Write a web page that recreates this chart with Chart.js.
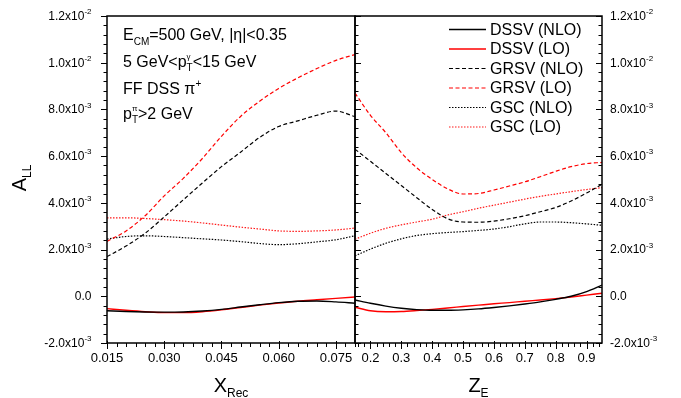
<!DOCTYPE html>
<html>
<head>
<meta charset="utf-8">
<script src="https://cdn.jsdelivr.net/npm/chart.js@4.4.0/dist/chart.umd.min.js"></script>
<style>
  body { margin: 0; background: #fff; }
  #wrap { position: relative; width: 681px; height: 398px; }
  #cLeft { position: absolute; left: 0; top: 0; width: 365px; height: 398px; }
  #cRight { position: absolute; left: 345px; top: 0; width: 336px; height: 398px; }
</style>
</head>
<body>
<div id="wrap">
  <canvas id="cLeft" width="365" height="398"></canvas>
  <canvas id="cRight" width="336" height="398"></canvas>
</div>
<script>
// A_LL values are in units of 1e-3

// left panel: X_Rec
const xRec = [0.015, 0.020, 0.025, 0.030, 0.035, 0.040, 0.045, 0.050, 0.055, 0.060, 0.065, 0.070, 0.075, 0.080];
const dssvNloX = [-0.62, -0.65, -0.67, -0.68, -0.67, -0.63, -0.56, -0.46, -0.36, -0.27, -0.21, -0.20, -0.24, -0.30];
const dssvLoX  = [-0.53, -0.60, -0.66, -0.70, -0.70, -0.66, -0.58, -0.48, -0.38, -0.29, -0.21, -0.15, -0.09, -0.03];
const grsvNloX = [1.70, 2.15, 2.70, 3.40, 4.13, 4.85, 5.55, 6.17, 6.80, 7.27, 7.51, 7.75, 7.93, 7.69];
const grsvLoX  = [2.35, 2.80, 3.45, 4.30, 5.05, 5.90, 6.85, 7.70, 8.35, 8.90, 9.35, 9.75, 10.10, 10.35];
const gscNloX  = [2.45, 2.56, 2.59, 2.56, 2.51, 2.46, 2.41, 2.34, 2.26, 2.21, 2.25, 2.33, 2.42, 2.59];
const gscLoX   = [3.36, 3.36, 3.33, 3.28, 3.22, 3.14, 3.05, 2.96, 2.88, 2.80, 2.78, 2.80, 2.84, 2.92];

// right panel: Z_E
const zE = [0.15, 0.20, 0.25, 0.30, 0.35, 0.40, 0.45, 0.50, 0.55, 0.60, 0.65, 0.70, 0.75, 0.80, 0.85, 0.90, 0.95];
const dssvNloZ = [-0.16, -0.30, -0.42, -0.51, -0.57, -0.60, -0.60, -0.58, -0.54, -0.48, -0.41, -0.33, -0.24, -0.13, 0.00, 0.20, 0.48];
const dssvLoZ  = [-0.47, -0.62, -0.66, -0.65, -0.61, -0.56, -0.50, -0.44, -0.38, -0.32, -0.27, -0.21, -0.16, -0.10, -0.03, 0.05, 0.13];
const grsvNloZ = [6.30, 5.78, 5.26, 4.74, 4.22, 3.72, 3.32, 3.18, 3.17, 3.22, 3.32, 3.45, 3.62, 3.80, 4.08, 4.42, 4.80];
const grsvLoZ  = [8.70, 7.75, 7.00, 6.15, 5.50, 5.00, 4.60, 4.38, 4.40, 4.55, 4.72, 4.90, 5.12, 5.35, 5.55, 5.68, 5.73];
const gscNloZ  = [1.73, 2.02, 2.27, 2.46, 2.60, 2.68, 2.73, 2.77, 2.82, 2.88, 2.98, 3.10, 3.18, 3.18, 3.15, 3.10, 3.04];
const gscLoZ   = [2.44, 2.70, 2.91, 3.06, 3.18, 3.30, 3.48, 3.62, 3.77, 3.90, 4.03, 4.16, 4.28, 4.38, 4.48, 4.57, 4.65];

const seriesNames = ["DSSV (NLO)", "DSSV (LO)", "GRSV (NLO)", "GRSV (LO)", "GSC (NLO)", "GSC (LO)"];

// tick labels
const yTicks = [-0.002, 0, 0.002, 0.004, 0.006, 0.008, 0.010, 0.012];
const xRecTicks = [0.015, 0.030, 0.045, 0.060, 0.075];
const zTicks = [0.2, 0.3, 0.4, 0.5, 0.6, 0.7, 0.8, 0.9];

const colors = ["#000000", "#ff0000", "#000000", "#ff0000", "#000000", "#ff1a1a"];
const dashes = [[], [], [4, 2.5], [4, 2.5], [1.5, 1.5], [1.5, 1.5]];
const FAM = '"Liberation Sans", Arial, sans-serif';
const font = s => s + "px " + FAM;

function toPoints(xs, ys) {
  return xs.map((x, i) => ({ x: x, y: ys[i] * 1e-3 }));
}

function makeDatasets(xs, list) {
  return list.map((ys, i) => ({
    label: seriesNames[i],
    data: toPoints(xs, ys),
    borderColor: colors[i],
    borderDash: dashes[i],
    borderWidth: dashes[i].length ? 1.2 : 1.4,
    pointRadius: 0,
    fill: false,
    cubicInterpolationMode: "monotone"
  }));
}

// text with sub/superscripts, parts: {t, size, dy} or {stack: [...]}
function richWidth(ctx, parts) {
  let w = 0;
  parts.forEach(p => {
    if (p.stack) {
      w += Math.max(...p.stack.map(s => { ctx.font = font(s.size); return ctx.measureText(s.t).width; }));
    } else {
      ctx.font = font(p.size);
      w += ctx.measureText(p.t).width;
    }
  });
  return w;
}
function drawRich(ctx, x, y, parts) {
  parts.forEach(p => {
    if (p.stack) {
      let w = 0;
      p.stack.forEach(s => {
        ctx.font = font(s.size);
        ctx.fillText(s.t, x, y + s.dy);
        w = Math.max(w, ctx.measureText(s.t).width);
      });
      x += w;
    } else {
      ctx.font = font(p.size);
      ctx.fillText(p.t, x, y + (p.dy || 0));
      x += ctx.measureText(p.t).width;
    }
  });
}

function sciLabel(v) {
  if (Math.abs(v) < 1e-12) return ["0.0", ""];
  const e = Math.floor(Math.log10(Math.abs(v)) + 1e-9);
  return [(v / Math.pow(10, e)).toFixed(1) + "x10", String(e)];
}

function yTickMarks(ctx, ys, x, lenMajor, lenMinor, dirOut) {
  for (let i = 0; i <= 35; i++) {
    const v = -0.002 + i * 0.0004;
    const py = Math.round(ys.getPixelForValue(v)) + 0.5;
    const len = i % 5 === 0 ? lenMajor : lenMinor;
    ctx.beginPath();
    ctx.moveTo(x, py);
    ctx.lineTo(x + dirOut * len, py);
    ctx.stroke();
  }
}

function frame(ctx, a) {
  ctx.save();
  ctx.strokeStyle = "#000";
  ctx.lineWidth = 1.5;
  ctx.setLineDash([]);
  ctx.strokeRect(a.left, a.top, a.right - a.left, a.bottom - a.top);
  ctx.restore();
}

const leftDecor = {
  id: "leftDecor",
  afterDraw(chart) {
    const ctx = chart.ctx, a = chart.chartArea;
    const xs = chart.scales.x, ys = chart.scales.y;
    frame(ctx, a);
    ctx.save();
    ctx.strokeStyle = "#000";
    ctx.lineWidth = 1;
    // left axis ticks, outward
    yTickMarks(ctx, ys, a.left, 6, 3.5, -1);
    // bottom ticks
    for (let i = 0; i <= 26; i++) {
      const v = 0.015 + i * 0.0025;
      const px = Math.round(xs.getPixelForValue(v)) + 0.5;
      ctx.beginPath();
      if (i % 6 === 0) { ctx.moveTo(px, a.bottom - 2); ctx.lineTo(px, a.bottom + 6); }
      else { ctx.moveTo(px, a.bottom); ctx.lineTo(px, a.bottom + 4); }
      ctx.stroke();
    }
    // y labels
    ctx.fillStyle = "#000";
    ctx.textBaseline = "middle";
    yTicks.forEach(v => {
      const py = ys.getPixelForValue(v);
      const [m, e] = sciLabel(v);
      ctx.font = font(8);
      const we = e ? ctx.measureText(e).width : 0;
      ctx.font = font(12);
      const wm = ctx.measureText(m).width;
      const x0 = 91.5 - we - wm;
      ctx.fillText(m, x0, py + 0.5);
      if (e) { ctx.font = font(8); ctx.fillText(e, x0 + wm, py - 4); }
    });
    // annotation text
    ctx.textBaseline = "alphabetic";
    drawRich(ctx, 123, 40, [{ t: "E", size: 16 }, { t: "CM", size: 10, dy: 4.5 }, { t: "=500 GeV, |\u03b7|<0.35", size: 16 }]);
    drawRich(ctx, 123, 66.5, [{ t: "5 GeV<p", size: 16 }, { stack: [{ t: "T", size: 10, dy: 4.5 }, { t: "\u03b3", size: 8, dy: -8 }] }, { t: "<15 GeV", size: 16 }]);
    drawRich(ctx, 123, 93.5, [{ t: "FF DSS \u03c0", size: 16 }, { t: "+", size: 10, dy: -7 }]);
    drawRich(ctx, 123, 118.5, [{ t: "p", size: 16 }, { stack: [{ t: "T", size: 10, dy: 4.5 }, { t: "\u03c0", size: 8, dy: -8 }] }, { t: ">2 GeV", size: 16 }]);
    // axis titles
    const xt = [{ t: "X", size: 20 }, { t: "Rec", size: 12, dy: 5 }];
    drawRich(ctx, (a.left + a.right) / 2 - richWidth(ctx, xt) / 2, 392, xt);
    const yt = [{ t: "A", size: 20 }, { t: "LL", size: 12, dy: 5 }];
    ctx.translate(26, 178);
    ctx.rotate(-Math.PI / 2);
    drawRich(ctx, -richWidth(ctx, yt) / 2, 0, yt);
    ctx.restore();
  }
};

const rightDecor = {
  id: "rightDecor",
  afterDraw(chart) {
    const ctx = chart.ctx, a = chart.chartArea;
    const xs = chart.scales.x, ys = chart.scales.y;
    frame(ctx, a);
    ctx.save();
    ctx.strokeStyle = "#000";
    ctx.lineWidth = 1;
    // divider ticks point into right panel, right axis ticks point inward
    yTickMarks(ctx, ys, a.left, 6, 3.5, 1);
    yTickMarks(ctx, ys, a.right, 6, 3.5, -1);
    for (let i = 0; i <= 39; i++) {
      const v = 0.16 + i * 0.02;
      const px = Math.round(xs.getPixelForValue(v)) + 0.5;
      ctx.beginPath();
      if (i % 5 === 2) { ctx.moveTo(px, a.bottom - 2); ctx.lineTo(px, a.bottom + 6); }
      else { ctx.moveTo(px, a.bottom); ctx.lineTo(px, a.bottom + 4); }
      ctx.stroke();
    }
    // y labels on the right
    ctx.fillStyle = "#000";
    ctx.textBaseline = "middle";
    yTicks.forEach(v => {
      const py = ys.getPixelForValue(v);
      const [m, e] = sciLabel(v);
      ctx.font = font(12);
      const wm = ctx.measureText(m).width;
      ctx.fillText(m, a.right + 8, py + 0.5);
      if (e) { ctx.font = font(8); ctx.fillText(e, a.right + 8 + wm, py - 4); }
    });
    // legend
    chart.data.datasets.forEach((ds, i) => {
      const y = 29.5 + i * 19.5;
      ctx.strokeStyle = ds.borderColor;
      ctx.lineWidth = ds.borderWidth;
      ctx.setLineDash(ds.borderDash);
      ctx.beginPath();
      ctx.moveTo(104, y);
      ctx.lineTo(141, y);
      ctx.stroke();
      ctx.setLineDash([]);
      ctx.fillStyle = "#000";
      ctx.font = font(16);
      ctx.fillText(ds.label, 145, y + 1);
    });
    // axis title
    ctx.textBaseline = "alphabetic";
    const zt = [{ t: "Z", size: 20 }, { t: "E", size: 12, dy: 5 }];
    drawRich(ctx, (a.left + a.right) / 2 - richWidth(ctx, zt) / 2, 392, zt);
    ctx.restore();
  }
};

function makeOptions(xMin, xMax, xTickVals, digits, yPos, yWidth, pad) {
  return {
    responsive: false,
    animation: false,
    layout: { padding: pad },
    plugins: { legend: { display: false }, tooltip: { enabled: false } },
    scales: {
      x: {
        type: "linear", min: xMin, max: xMax,
        grid: { display: false, drawTicks: false },
        border: { display: false },
        afterBuildTicks: s => { s.ticks = xTickVals.map(v => ({ value: v })); },
        afterFit: s => { s.height = 55; },
        ticks: {
          padding: 8, color: "#000", maxRotation: 0, autoSkip: false,
          font: { family: FAM, size: 13 },
          callback: v => Number(v).toFixed(digits)
        }
      },
      y: {
        type: "linear", position: yPos, min: -0.002, max: 0.012,
        grid: { display: false, drawTicks: false },
        border: { display: false },
        ticks: { display: false },
        afterFit: s => { s.width = yWidth; }
      }
    }
  };
}

new Chart(document.getElementById("cLeft"), {
  type: "line",
  data: { datasets: makeDatasets(xRec, [dssvNloX, dssvLoX, grsvNloX, grsvLoX, gscNloX, gscLoX]) },
  options: makeOptions(0.015, 0.08, xRecTicks, 3, "left", 107, { left: 0, right: 10, top: 16, bottom: 0 }),
  plugins: [leftDecor]
});

new Chart(document.getElementById("cRight"), {
  type: "line",
  data: { datasets: makeDatasets(zE, [dssvNloZ, dssvLoZ, grsvNloZ, grsvLoZ, gscNloZ, gscLoZ]) },
  options: makeOptions(0.15, 0.95, zTicks, 1, "right", 79, { left: 10, right: 0, top: 16, bottom: 0 }),
  plugins: [rightDecor]
});
</script>
</body>
</html>
